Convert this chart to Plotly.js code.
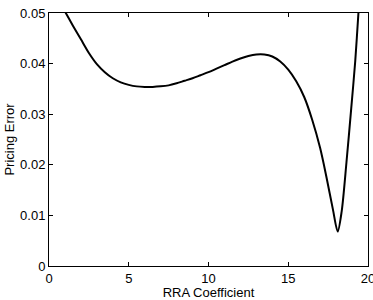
<!DOCTYPE html>
<html>
<head>
<meta charset="utf-8">
<script src="https://cdn.plot.ly/plotly-3.0.1.min.js"></script>
<style>html,body{margin:0;padding:0;background:#fff;}#chart{width:373px;height:300px;}</style>
</head>
<body>
<div id="chart"></div>
<script>
const rraCoefficient = [0.5, 1.0, 1.5, 2.0, 2.5, 3.0, 3.5, 4.0, 4.5, 5.0, 5.5, 6.0, 6.5, 7.0, 7.5, 8.0, 8.5, 9.0, 9.5, 10.0, 10.5, 11.0, 11.5, 12.0, 12.5, 13.0, 13.5, 14.0, 14.5, 15.0, 15.5, 16.0, 16.5, 17.0, 17.4, 17.8, 18.1, 18.35, 18.65, 18.95, 19.2, 19.4, 19.55];
const pricingError = [0.0531, 0.0503, 0.0475, 0.0448, 0.0421, 0.0399, 0.0383, 0.0371, 0.0363, 0.0358, 0.0355, 0.0354, 0.0354, 0.0355, 0.0357, 0.0361, 0.0366, 0.0371, 0.0377, 0.0383, 0.0390, 0.0397, 0.0404, 0.0410, 0.0415, 0.0418, 0.0418, 0.0414, 0.0404, 0.0388, 0.0365, 0.0334, 0.0289, 0.0233, 0.0175, 0.0112, 0.0068, 0.0108, 0.0205, 0.0312, 0.0405, 0.0500, 0.0570];
const xTicks = [0, 5, 10, 15, 20];
const yTicks = [0, 0.01, 0.02, 0.03, 0.04, 0.05];
const yTickLabels = ["0", "0.01", "0.02", "0.03", "0.04", "0.05"];

const font = {family: "Liberation Sans, Arial, sans-serif", size: 13, color: "#000"};
const axisCommon = {
  showline: true, linecolor: "#000", linewidth: 1, mirror: "ticks",
  ticks: "inside", ticklen: 4, tickcolor: "#000", tickwidth: 1,
  showgrid: false, zeroline: false, tickfont: font, ticklabeloverflow: "allow"
};
Plotly.newPlot("chart", [{
  x: rraCoefficient, y: pricingError, type: "scatter", mode: "lines",
  line: {color: "#000", width: 2, shape: "spline", smoothing: 0.8}
}], {
  width: 373, height: 300,
  margin: {l: 49, r: 5, t: 13, b: 34},
  paper_bgcolor: "#fff", plot_bgcolor: "#fff",
  showlegend: false,
  font: font,
  xaxis: Object.assign({}, axisCommon, {range: [0, 20], tickvals: xTicks, ticktext: xTicks.map(String),
    title: {text: "RRA Coefficient", font: font, standoff: 2}, automargin: false}),
  yaxis: Object.assign({}, axisCommon, {range: [0, 0.05], tickvals: yTicks, ticktext: yTickLabels,
    title: {text: "Pricing Error", font: font, standoff: 2}, automargin: false})
}, {staticPlot: true, displayModeBar: false});
</script>
</body>
</html>
